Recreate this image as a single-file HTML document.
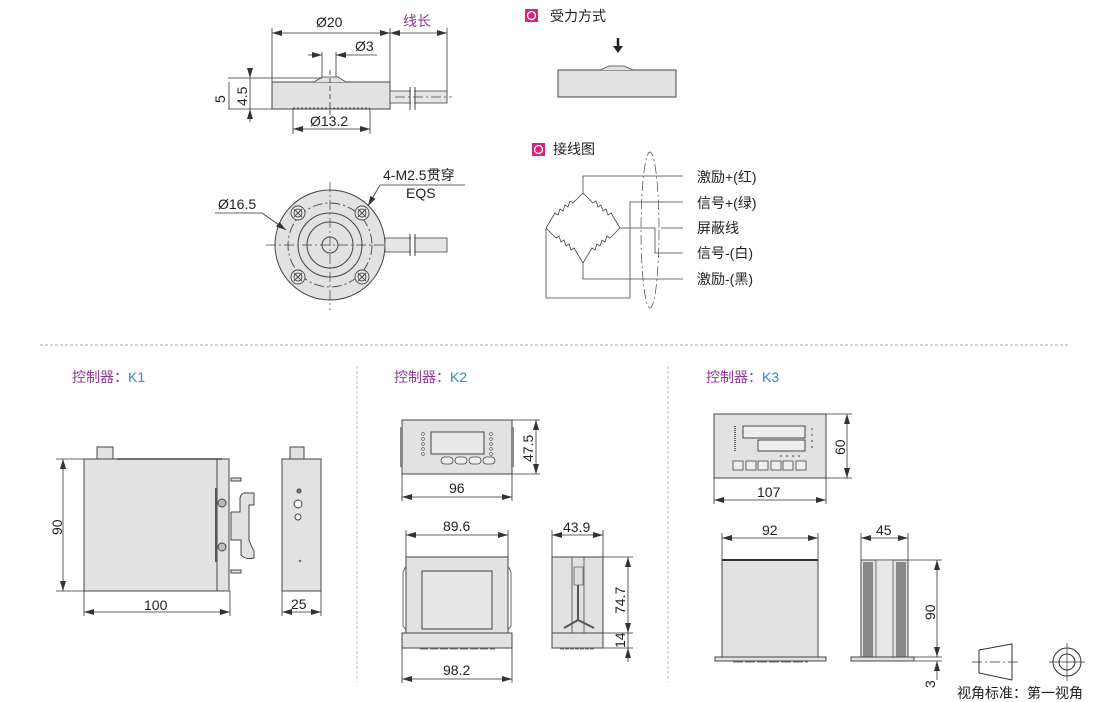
<!DOCTYPE html>
<html><head><meta charset="utf-8"><style>
html,body{margin:0;padding:0;background:#fff;}
svg{display:block;font-family:"Liberation Sans","Noto Sans CJK SC",sans-serif;}
.t{font-size:14px;fill:#222;}
.d{stroke:#333;stroke-width:0.8;fill:none;}
.b{fill:#e2e2e2;stroke:#444;stroke-width:1;}
.c{stroke:#444;stroke-width:0.7;fill:none;stroke-dasharray:10 3 2 3;}
</style></head><body>
<svg width="1110" height="702" viewBox="0 0 1110 702" xmlns="http://www.w3.org/2000/svg">
<defs>
<marker id="a" viewBox="0 0 10 6" refX="10" refY="3" markerWidth="10" markerHeight="6" orient="auto-start-reverse" markerUnits="userSpaceOnUse"><path d="M0,0 L10,3 L0,6z" fill="#333"/></marker>
</defs>

<!-- ===== Sensor side view ===== -->
<line class="d" x1="272" y1="28" x2="272" y2="82"/>
<line class="d" x1="390" y1="28" x2="390" y2="82"/>
<line class="d" x1="447" y1="28" x2="447" y2="100"/>
<line class="d" x1="272" y1="33" x2="390" y2="33" marker-start="url(#a)" marker-end="url(#a)"/>
<line class="d" x1="390" y1="33" x2="447" y2="33" marker-start="url(#a)" marker-end="url(#a)"/>
<text class="t" x="316" y="27">Ø20</text>
<text x="403" y="26" style="font-size:14px;fill:#8e3a8e">线长</text>
<line class="d" x1="322" y1="52" x2="322" y2="78"/>
<line class="d" x1="336" y1="52" x2="336" y2="78"/>
<line class="d" x1="308" y1="55" x2="322" y2="55" marker-end="url(#a)"/>
<line class="d" x1="377" y1="55" x2="336" y2="55" marker-end="url(#a)"/>
<text class="t" x="355" y="51">Ø3</text>
<rect class="b" x="272" y="82" width="118" height="27"/>
<path d="M314,82 L322,77 L338,77 L346,82" fill="#e2e2e2" stroke="#444" stroke-width="0.8"/>
<line x1="293" y1="108" x2="370" y2="108" stroke="#555" stroke-dasharray="2 2"/>
<line class="d" x1="330" y1="70" x2="330" y2="115" stroke-dasharray="5 3"/>
<line class="d" x1="293" y1="109" x2="293" y2="134"/>
<line class="d" x1="370" y1="109" x2="370" y2="134"/>
<line class="d" x1="293" y1="129" x2="370" y2="129" marker-start="url(#a)" marker-end="url(#a)"/>
<text class="t" x="310" y="126">Ø13.2</text>
<line class="d" x1="228" y1="78" x2="322" y2="78"/>
<line class="d" x1="228" y1="109" x2="272" y2="109"/>
<line class="d" x1="250" y1="68" x2="250" y2="78" marker-end="url(#a)"/>
<line class="d" x1="250" y1="122" x2="250" y2="109" marker-end="url(#a)"/>
<line class="d" x1="250" y1="78" x2="250" y2="109"/>
<line class="d" x1="229" y1="82" x2="229" y2="109"/>
<text class="t" transform="translate(225,103) rotate(-90)">5</text>
<text class="t" transform="translate(247,106) rotate(-90)">4.5</text>
<rect x="390" y="91" width="57" height="12" fill="#e6e6e6" stroke="#444" stroke-width="0.8"/>
<line x1="410" y1="87" x2="410" y2="110" stroke="#444"/>
<line x1="415" y1="87" x2="415" y2="110" stroke="#444"/>
<rect x="411" y="88" width="3" height="21" fill="#fff"/>
<line class="c" x1="395" y1="97" x2="452" y2="97"/>

<!-- ===== Sensor top view ===== -->
<circle cx="330" cy="245" r="55" class="b"/>
<circle cx="330" cy="245" r="42" class="c" style="stroke-width:0.9"/>
<circle cx="330" cy="245" r="32" fill="none" stroke="#444"/>
<circle cx="330" cy="245" r="23" fill="none" stroke="#444"/>
<circle cx="330" cy="245" r="8" fill="none" stroke="#444"/>
<g stroke="#444" fill="#eee" stroke-width="0.9">
<circle cx="298" cy="213" r="7"/><circle cx="362" cy="213" r="7"/><circle cx="298" cy="277" r="7"/><circle cx="362" cy="277" r="7"/>
<circle cx="298" cy="213" r="4"/><circle cx="362" cy="213" r="4"/><circle cx="298" cy="277" r="4"/><circle cx="362" cy="277" r="4"/>
<path d="M294,209l8,8M302,209l-8,8M358,209l8,8M366,209l-8,8M294,273l8,8M302,273l-8,8M358,273l8,8M366,273l-8,8" fill="none"/>
</g>
<line class="c" x1="266" y1="245" x2="395" y2="245"/>
<line class="c" x1="330" y1="182" x2="330" y2="310"/>
<rect x="385" y="238" width="62" height="14" fill="#e6e6e6" stroke="#444" stroke-width="0.8"/>
<line x1="410" y1="234" x2="410" y2="256" stroke="#444"/>
<line x1="415" y1="234" x2="415" y2="256" stroke="#444"/>
<rect x="411" y="235" width="3" height="20" fill="#fff"/>
<text class="t" x="383" y="180">4-M2.5贯穿</text>
<text class="t" x="406" y="198">EQS</text>
<line class="d" x1="380" y1="185" x2="465" y2="185"/>
<line class="d" x1="380" y1="185" x2="368" y2="206" marker-end="url(#a)"/>
<text class="t" x="218" y="209">Ø16.5</text>
<line class="d" x1="215" y1="213" x2="262" y2="213"/>
<line class="d" x1="262" y1="213" x2="286" y2="230" marker-end="url(#a)"/>

<!-- ===== 受力方式 ===== -->
<rect x="525" y="9" width="13" height="13" fill="#d6267a"/>
<circle cx="531.5" cy="15.5" r="4" fill="none" stroke="#fff" stroke-width="1.3"/>
<text class="t" x="550" y="21">受力方式</text>
<line x1="618" y1="38" x2="618" y2="47" stroke="#222" stroke-width="2.5"/>
<path d="M613,46 L623,46 L618,53z" fill="#222"/>
<rect class="b" x="558" y="70" width="118" height="27"/>
<path d="M600,70 L609,66 L624,66 L633,70" fill="#e2e2e2" stroke="#444" stroke-width="0.8"/>

<!-- ===== 接线图 ===== -->
<rect x="532" y="143" width="13" height="13" fill="#d6267a"/>
<circle cx="538.5" cy="149.5" r="4" fill="none" stroke="#fff" stroke-width="1.3"/>
<text class="t" x="553" y="154">接线图</text>
<g stroke="#444" stroke-width="0.8" fill="none">
<path d="M583,193 L573,203 l-3,-2 l-2,6 l-3,-2 l-2,6 l-3,-2 l-2,6 l-3,-2 L546,228"/>
<path d="M583,193 L593,203 l3,-2 l2,6 l3,-2 l2,6 l3,-2 l2,6 l3,-2 L620,228"/>
<path d="M546,228 L556,238 l3,-2 l2,6 l3,-2 l2,6 l3,-2 l2,6 l3,-2 L583,263"/>
<path d="M620,228 L610,238 l-3,-2 l-2,6 l-3,-2 l-2,6 l-3,-2 l-2,6 l-3,-2 L583,263"/>
<path d="M583,193 V176 H683"/>
<path d="M546,228 V298 H630 V202 H683"/>
<path d="M620,228 H655 V253 H683"/>
<path d="M661,228 H683"/>
<path d="M583,263 V279 H683"/>
</g>
<ellipse cx="650" cy="230" rx="9" ry="78" class="c"/>
<text class="t" x="697" y="182">激励+(红)</text>
<text class="t" x="697" y="208">信号+(绿)</text>
<text class="t" x="697" y="233">屏蔽线</text>
<text class="t" x="697" y="258">信号-(白)</text>
<text class="t" x="697" y="284">激励-(黑)</text>

<!-- separators -->
<line x1="40" y1="345" x2="1068" y2="345" stroke="#aaa" stroke-dasharray="3 2"/>
<line x1="357" y1="366" x2="357" y2="682" stroke="#bbb" stroke-dasharray="3 2"/>
<line x1="668" y1="366" x2="668" y2="682" stroke="#bbb" stroke-dasharray="3 2"/>
<text x="72" y="382" style="font-size:14px;fill:#8e3a8e">控制器：<tspan fill="#2a8cc8">K1</tspan></text>
<text x="394" y="382" style="font-size:14px;fill:#8e3a8e">控制器：<tspan fill="#2a8cc8">K2</tspan></text>
<text x="706" y="382" style="font-size:14px;fill:#8e3a8e">控制器：<tspan fill="#2a8cc8">K3</tspan></text>

<!-- ===== K1 ===== -->
<rect x="97" y="447" width="16" height="12" class="b"/>
<rect x="84" y="459" width="135" height="132" class="b"/>
<rect x="217" y="459" width="12" height="132" class="b"/>
<line x1="117" y1="459" x2="222" y2="459" stroke="#444" stroke-width="1.5"/>
<rect x="215" y="488" width="2" height="74" fill="#555"/>
<circle cx="222" cy="503" r="4" fill="#bbb" stroke="#444"/>
<circle cx="222" cy="547" r="4" fill="#bbb" stroke="#444"/>
<rect x="231" y="478" width="10" height="3" class="b"/>
<rect x="231" y="570" width="10" height="3" class="b"/>
<path d="M231,512 H240 V498 Q241,492 247,493 H254 V505 H249 V540 Q252,548 254,551 V558 Q245,560 241,555 V540 H231 Z" class="b"/>
<rect x="282" y="459" width="39" height="132" class="b"/>
<rect x="290" y="447" width="14" height="12" class="b"/>
<circle cx="299" cy="491" r="2" fill="#888" stroke="#444"/>
<circle cx="298" cy="504" r="4" fill="#fff" stroke="#444"/>
<circle cx="298" cy="517" r="3" fill="#fff" stroke="#444"/>
<circle cx="300" cy="561" r="1.2" fill="#666"/>
<line class="d" x1="56" y1="459" x2="84" y2="459"/>
<line class="d" x1="56" y1="591" x2="84" y2="591"/>
<line class="d" x1="63" y1="459" x2="63" y2="591" marker-start="url(#a)" marker-end="url(#a)"/>
<text class="t" transform="translate(62,535) rotate(-90)">90</text>
<line class="d" x1="84" y1="591" x2="84" y2="616"/>
<line class="d" x1="230" y1="591" x2="230" y2="616"/>
<line class="d" x1="84" y1="612" x2="230" y2="612" marker-start="url(#a)" marker-end="url(#a)"/>
<text class="t" x="144" y="610">100</text>
<line class="d" x1="282" y1="591" x2="282" y2="616"/>
<line class="d" x1="321" y1="591" x2="321" y2="616"/>
<line class="d" x1="282" y1="612" x2="321" y2="612" marker-start="url(#a)" marker-end="url(#a)"/>
<text class="t" x="291" y="609">25</text>

<!-- ===== K2 top ===== -->
<rect x="402" y="420" width="110" height="54" class="b"/>
<rect x="400" y="427" width="3" height="40" fill="#888"/>
<rect x="511" y="427" width="3" height="40" fill="#888"/>
<rect x="431" y="432" width="53" height="22" fill="#e8e8e8" stroke="#444"/>
<g fill="none" stroke="#555" stroke-width="0.6">
<circle cx="423" cy="434" r="1.4"/><circle cx="423" cy="439" r="1.4"/><circle cx="423" cy="444" r="1.4"/><circle cx="423" cy="449" r="1.4"/><circle cx="423" cy="454" r="1.4"/>
<circle cx="491" cy="434" r="1.4"/><circle cx="491" cy="439" r="1.4"/><circle cx="491" cy="444" r="1.4"/><circle cx="491" cy="449" r="1.4"/><circle cx="491" cy="454" r="1.4"/>
</g>
<g fill="#eee" stroke="#444" stroke-width="0.8">
<rect x="441" y="457" width="12" height="7" rx="3.5"/><rect x="455" y="457" width="12" height="7" rx="3.5"/><rect x="469" y="457" width="12" height="7" rx="3.5"/><rect x="483" y="457" width="12" height="7" rx="3.5"/>
</g>
<line class="d" x1="512" y1="420" x2="540" y2="420"/>
<line class="d" x1="512" y1="474" x2="540" y2="474"/>
<line class="d" x1="536" y1="420" x2="536" y2="474" marker-start="url(#a)" marker-end="url(#a)"/>
<text class="t" transform="translate(533,462) rotate(-90)">47.5</text>
<line class="d" x1="402" y1="474" x2="402" y2="501"/>
<line class="d" x1="512" y1="474" x2="512" y2="501"/>
<line class="d" x1="402" y1="497" x2="512" y2="497" marker-start="url(#a)" marker-end="url(#a)"/>
<text class="t" x="449" y="493">96</text>

<!-- K2 bottom -->
<rect x="406" y="557" width="102" height="76" class="b"/>
<rect x="422" y="571" width="70" height="58" fill="#e6e6e6" stroke="#444"/>
<path d="M406,566 L403,572 V626 L406,630 M508,566 L511,572 V626 L508,630" stroke="#666" fill="none"/>
<rect x="402" y="633" width="110" height="15" class="b"/>
<line x1="420" y1="649" x2="495" y2="649" stroke="#777" stroke-dasharray="8 2"/>
<line class="d" x1="406" y1="530" x2="406" y2="557"/>
<line class="d" x1="508" y1="530" x2="508" y2="557"/>
<line class="d" x1="406" y1="535" x2="508" y2="535" marker-start="url(#a)" marker-end="url(#a)"/>
<text class="t" x="443" y="531">89.6</text>
<line class="d" x1="402" y1="648" x2="402" y2="683"/>
<line class="d" x1="512" y1="648" x2="512" y2="683"/>
<line class="d" x1="402" y1="679" x2="512" y2="679" marker-start="url(#a)" marker-end="url(#a)"/>
<text class="t" x="443" y="675">98.2</text>

<rect x="552" y="557" width="51" height="76" class="b"/>
<path d="M572,557 V633 M584,557 V633" stroke="#666" fill="none"/>
<rect x="574" y="567" width="9" height="18" fill="#ddd" stroke="#555" stroke-width="0.7"/>
<path d="M578,585 V620 M564,628 L578,620 L594,628" stroke="#555" fill="none" stroke-width="2"/>
<rect x="552" y="633" width="51" height="15" class="b"/>
<line x1="560" y1="649" x2="595" y2="649" stroke="#777" stroke-dasharray="4 1"/>
<line class="d" x1="552" y1="530" x2="552" y2="557"/>
<line class="d" x1="603" y1="530" x2="603" y2="557"/>
<line class="d" x1="552" y1="535" x2="603" y2="535" marker-start="url(#a)" marker-end="url(#a)"/>
<text class="t" x="563" y="532">43.9</text>
<line class="d" x1="603" y1="557" x2="633" y2="557"/>
<line class="d" x1="603" y1="633" x2="633" y2="633"/>
<line class="d" x1="603" y1="648" x2="633" y2="648"/>
<line class="d" x1="628" y1="557" x2="628" y2="633" marker-start="url(#a)" marker-end="url(#a)"/>
<line class="d" x1="628" y1="633" x2="628" y2="648"/>
<line class="d" x1="628" y1="662" x2="628" y2="648" marker-end="url(#a)"/>
<text class="t" transform="translate(625,614) rotate(-90)">74.7</text>
<text class="t" transform="translate(625,648) rotate(-90)">14</text>

<!-- ===== K3 ===== -->
<rect x="714" y="414" width="112" height="64" class="b"/>
<rect x="743" y="426" width="62" height="12" fill="#eee" stroke="#444"/>
<rect x="758" y="440" width="47" height="11" fill="#eee" stroke="#444"/>
<line x1="735" y1="426" x2="735" y2="452" stroke="#666" stroke-width="2" stroke-dasharray="1 1"/>
<g fill="#777"><circle cx="812" cy="429" r="1"/><circle cx="812" cy="435" r="1"/><circle cx="812" cy="441" r="1"/><circle cx="812" cy="447" r="1"/>
<circle cx="781" cy="456" r="1"/><circle cx="787" cy="456" r="1"/><circle cx="793" cy="456" r="1"/><circle cx="799" cy="456" r="1"/></g>
<g fill="#eee" stroke="#444" stroke-width="0.8">
<rect x="733" y="461" width="10" height="9"/><rect x="746" y="461" width="10" height="9"/><rect x="758" y="461" width="10" height="9"/><rect x="771" y="461" width="10" height="9"/><rect x="783" y="461" width="10" height="9"/><rect x="796" y="461" width="10" height="9"/>
</g>
<line class="d" x1="826" y1="414" x2="852" y2="414"/>
<line class="d" x1="826" y1="478" x2="852" y2="478"/>
<line class="d" x1="847" y1="414" x2="847" y2="478" marker-start="url(#a)" marker-end="url(#a)"/>
<text class="t" transform="translate(845,455) rotate(-90)">60</text>
<line class="d" x1="714" y1="478" x2="714" y2="504"/>
<line class="d" x1="826" y1="478" x2="826" y2="504"/>
<line class="d" x1="714" y1="500" x2="826" y2="500" marker-start="url(#a)" marker-end="url(#a)"/>
<text class="t" x="757" y="497">107</text>

<rect x="722" y="560" width="96" height="98" class="b"/>
<line x1="722" y1="560" x2="818" y2="560" stroke="#333" stroke-width="2"/>
<rect x="715" y="657" width="111" height="4" class="b"/>
<line x1="733" y1="662" x2="808" y2="662" stroke="#777" stroke-dasharray="10 2"/>
<line class="d" x1="722" y1="533" x2="722" y2="560"/>
<line class="d" x1="818" y1="533" x2="818" y2="560"/>
<line class="d" x1="722" y1="538" x2="818" y2="538" marker-start="url(#a)" marker-end="url(#a)"/>
<text class="t" x="762" y="535">92</text>

<rect x="861" y="560" width="47" height="97" class="b"/>
<rect x="863" y="562" width="10" height="95" fill="#888"/>
<rect x="896" y="562" width="10" height="95" fill="#888"/>
<rect x="876" y="560" width="17" height="97" fill="#e8e8e8" stroke="#555" stroke-width="0.8"/>
<rect x="851" y="657" width="63" height="4" class="b"/>
<line class="d" x1="861" y1="533" x2="861" y2="560"/>
<line class="d" x1="908" y1="533" x2="908" y2="560"/>
<line class="d" x1="861" y1="538" x2="908" y2="538" marker-start="url(#a)" marker-end="url(#a)"/>
<text class="t" x="876" y="535">45</text>
<line class="d" x1="908" y1="560" x2="942" y2="560"/>
<line class="d" x1="914" y1="657" x2="942" y2="657"/>
<line class="d" x1="937" y1="560" x2="937" y2="657" marker-start="url(#a)" marker-end="url(#a)"/>
<line class="d" x1="937" y1="680" x2="937" y2="661" marker-end="url(#a)"/>
<line class="d" x1="914" y1="661" x2="942" y2="661"/>
<text class="t" transform="translate(935,620) rotate(-90)">90</text>
<text class="t" transform="translate(935,688) rotate(-90)">3</text>

<!-- view symbol -->
<path d="M979,650 L1012,644 V680 L979,673 Z" fill="none" stroke="#333"/>
<line x1="972" y1="662" x2="1018" y2="662" stroke="#333" stroke-width="0.7" stroke-dasharray="10 3 2 3"/>
<circle cx="1067" cy="662" r="14" fill="none" stroke="#333"/>
<circle cx="1067" cy="662" r="8" fill="none" stroke="#333"/>
<line x1="1049" y1="662" x2="1085" y2="662" stroke="#333" stroke-width="0.7"/>
<line x1="1067" y1="643" x2="1067" y2="681" stroke="#333" stroke-width="0.7"/>
<text class="t" x="957" y="698">视角标准：第一视角</text>
</svg>
</body></html>
